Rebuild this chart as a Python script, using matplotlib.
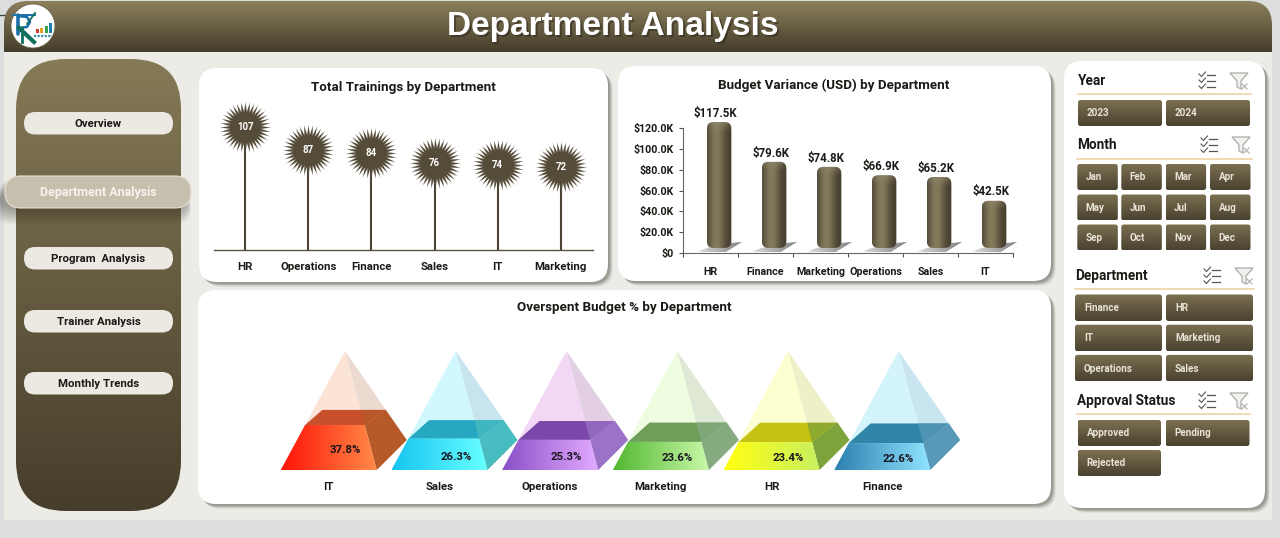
import numpy as np
import matplotlib
matplotlib.use("Agg")
import matplotlib.pyplot as plt
from matplotlib.colors import to_rgb
from matplotlib.patches import FancyBboxPatch, Polygon, Circle
from matplotlib.path import Path

# chart data
train_depts = ["HR", "Operations", "Finance", "Sales", "IT", "Marketing"]
train_totals = [107, 87, 84, 76, 74, 72]

var_depts = ["HR", "Finance", "Marketing", "Operations", "Sales", "IT"]
var_values = [117.5, 79.6, 74.8, 66.9, 65.2, 42.5]  # thousands USD
var_ticks = [0, 20, 40, 60, 80, 100, 120]

over_depts = ["IT", "Sales", "Operations", "Marketing", "HR", "Finance"]
over_pct = [37.8, 26.3, 25.3, 23.6, 23.4, 22.6]

# dashboard text
nav_labels = ["Overview", "Program  Analysis", "Trainer Analysis", "Monthly Trends"]
years = ["2023", "2024"]
months = ["Jan", "Feb", "Mar", "Apr", "May", "Jun", "Jul", "Aug", "Sep", "Oct", "Nov", "Dec"]
slicer_depts = ["Finance", "HR", "IT", "Marketing", "Operations", "Sales"]
approvals = ["Approved", "Pending", "Rejected"]

W, H = 1280, 538
FONT = "Roboto"
INK = "#1c1a16"
STEM = "#4d4533"

# pyramid colours, same order as over_depts
front_l = ["#ff1408", "#16c4f0", "#8a50c8", "#52b830", "#ffff10", "#2a7fae"]
front_r = ["#ff8a48", "#66ffff", "#e2aaff", "#c8f8a8", "#c8f060", "#8fe4ff"]
top_col = ["#c8502a", "#25a8c0", "#7a48a8", "#6e9e5a", "#c6c214", "#3085a8"]
side_col = ["#b55a28", "#48bcc0", "#9a72c8", "#85aa80", "#7ca43a", "#5898b8"]
ghost_f = ["#fbe4d5", "#d2f8ff", "#f2d8f5", "#eefce0", "#fdffd0", "#d4f4fb"]
ghost_s = ["#ecd9d0", "#c8e4ee", "#e2cfe3", "#dfe8d5", "#eef0c8", "#c9e6f0"]

fig = plt.figure(figsize=(W / 100, H / 100), dpi=100, facecolor="#dcdddd")


def px_axes(x0, y0, x1, y1):
    ax = fig.add_axes([x0 / W, 1 - y1 / H, (x1 - x0) / W, (y1 - y0) / H])
    ax.patch.set_visible(False)
    return ax


def grad(ax, extent, c0, c1, clip, vertical=False, z=2):
    # two colour gradient image, cut to the shape of clip
    xl, yl = ax.get_xlim(), ax.get_ylim()
    t = np.linspace(0, 1, 64)[:, None]
    arr = (1 - t) * np.array(to_rgb(c0)) + t * np.array(to_rgb(c1))
    arr = arr[:, None, :] if vertical else arr[None, :, :]
    im = ax.imshow(arr, extent=extent, aspect="auto", origin="upper", zorder=z, interpolation="bilinear")
    im.set_clip_path(clip)
    ax.set_xlim(xl)
    ax.set_ylim(yl)
    return im


def grad_poly(ax, verts, c0, c1, z=2):
    v = np.array(verts)
    clip = Polygon(v, closed=True, transform=ax.transData)
    return grad(ax, (v[:, 0].min(), v[:, 0].max(), v[:, 1].min(), v[:, 1].max()), c0, c1, clip, z=z)


def round_box(x0, y0, x1, y1, r, **kw):
    return FancyBboxPatch((x0, y0), x1 - x0, y1 - y0, boxstyle=f"round,pad=0,rounding_size={r}", **kw)


# background layer in pixel coordinates
bg = fig.add_axes([0, 0, 1, 1])
bg.set_xlim(0, W)
bg.set_ylim(H, 0)
bg.axis("off")

bg.add_patch(plt.Rectangle((4, 40), 1268, 480, color="#ecebe5", lw=0, zorder=1))
bg.plot([0, 5], [15, 15], color="#3c4a46", lw=1, zorder=1)


def grad_box(x0, y0, x1, y1, r, c0, c1, z=2):
    clip = round_box(x0, y0, x1, y1, r, transform=bg.transData)
    grad(bg, (x0, x1, y1, y0), c0, c1, clip, vertical=True, z=z)


# header: rounded on top, square where it meets the canvas
hdr_clip = round_box(4, 1, 1272, 80, 24, transform=bg.transData)
im = grad(bg, (4, 1272, 52, 1), "#8b7f5c", "#453d2b", hdr_clip, vertical=True)
bg.text(614.5, 28.5, "Department Analysis", color="#2a2418", alpha=0.5, fontsize=24, fontweight="bold",
        family="Liberation Sans", ha="center", va="center", zorder=3)
bg.text(613, 27, "Department Analysis", color="white", fontsize=24, fontweight="bold",
        family="Liberation Sans", ha="center", va="center", zorder=3)

# logo, drawn with shapes
bg.add_patch(Circle((33, 26), 22, fc="white", ec="#6f6548", lw=0.6, zorder=4))
bg.plot([18, 18], [15, 34], color="#1a70a8", lw=2.6, zorder=5, solid_capstyle="round")
bg.plot([13, 35], [14.5, 14.5], color="#1a70a8", lw=1.4, zorder=5)
bg.plot([18, 27, 30, 27, 18], [16, 17, 22, 27, 28], color="#1a70a8", lw=1.8, zorder=5)
bg.plot([19, 34], [28, 42], color="#126f5c", lw=3, zorder=5)
bg.plot([22, 22], [28, 42], color="#126f5c", lw=2, zorder=5)
bg.plot([35, 27], [13, 24], color="#126f5c", lw=1.3, zorder=5)
for bx, top, c in zip([36, 40, 44.5, 49], [29, 27.5, 26, 23], ["#d43a2a", "#e8a020", "#3aa050", "#1a80b0"]):
    bg.add_patch(plt.Rectangle((bx, top), 3, 33 - top, color=c, lw=0, zorder=5))
bg.plot([34, 52], [36, 36], color="#3a90a8", lw=1.6, ls=(0, (1, 0.6)), zorder=5)

# sidebar
grad_box(16, 59, 181, 511, 50, "#857956", "#463e2b")

for label, y0 in zip(nav_labels, [112, 247, 310, 372]):
    bg.add_patch(round_box(24, y0, 173, y0 + 22.5, 11, fc="#ece9e3", ec="none", zorder=4))
    bg.text(98.5, y0 + 12, label, color=INK, fontsize=8.2, fontweight="bold", family=FONT,
            ha="center", va="center", zorder=5)

# selected page, raised with a soft shadow
for off in np.arange(1, 17, 1.5):
    bg.add_patch(round_box(0 - off * 0.2, 178 + off, 186 + off * 0.3, 208 + off, 15, fc="#2c2a22", ec="none",
                           alpha=0.045, zorder=3))
bg.add_patch(round_box(5, 176, 191, 208, 16, fc="#c6bfad", ec="#e4e0d6", lw=0.8, zorder=4))
bg.text(98.5, 192.5, "Department Analysis", color="#f6f4ee", fontsize=9, fontweight="bold", family=FONT,
        ha="center", va="center", zorder=5)


def panel(x0, y0, x1, y1, r=18):
    for off, a in zip([5, 4, 3, 2], [0.08, 0.14, 0.2, 0.26]):
        bg.add_patch(round_box(x0 + off, y0 + off, x1 + off, y1 + off, r, fc="#55544c", ec="none", alpha=a, zorder=2))
    bg.add_patch(round_box(x0, y0, x1, y1, r, fc="white", ec="none", zorder=3))


panel(199, 68, 608, 282)
panel(618, 66, 1051, 281)
panel(198, 290, 1051, 504)
panel(1064, 61, 1265, 508)

bg.text(403, 87, "Total Trainings by Department", color=INK, fontsize=9.6, fontweight="bold", family=FONT,
        ha="center", va="center", zorder=5)
bg.text(834, 85.5, "Budget Variance (USD) by Department", color=INK, fontsize=9.6, fontweight="bold", family=FONT,
        ha="center", va="center", zorder=5)
bg.text(624, 308, "Overspent Budget % by Department", color=INK, fontsize=9.6, fontweight="bold", family=FONT,
        ha="center", va="center", zorder=5)


# slicers
def checklist_icon(cx, cy):
    for dy in (-6, 0, 6):
        bg.plot([cx - 8, cx - 5.5, cx - 1.5], [cy + dy - 1, cy + dy + 1.5, cy + dy - 3], color="#555", lw=0.8, zorder=5)
        bg.plot([cx, cx + 8], [cy + dy, cy + dy], color="#555", lw=0.9, zorder=5)


def funnel_icon(cx, cy):
    bg.add_patch(Polygon([(cx - 9, cy - 8), (cx + 9, cy - 8), (cx + 2, cy), (cx + 2, cy + 8), (cx - 2, cy + 6), (cx - 2, cy)],
                         closed=True, fc="#f0f0ee", ec="#b4b4b0", lw=1, zorder=5))
    bg.plot([cx + 3, cx + 8], [cy + 3, cy + 8], color="#b4b4b0", lw=0.9, zorder=6)
    bg.plot([cx + 3, cx + 8], [cy + 8, cy + 3], color="#b4b4b0", lw=0.9, zorder=6)


def slicer_head(title, x, y, x1, icon_x, line_y):
    bg.text(x, y, title, color=INK, fontsize=9.8, fontweight="bold", family=FONT, ha="left", va="center", zorder=5)
    checklist_icon(icon_x, y)
    funnel_icon(icon_x + 32, y)
    bg.plot([x, x1], [line_y, line_y], color="#ebcf9c", lw=1.1, zorder=5)


def slicer_btn(label, x0, y0, x1, y1, pad=9):
    grad_box(x0, y0, x1, y1, 2.5, "#7c7051", "#4a4230", z=4)
    bg.text(x0 + pad, (y0 + y1) / 2 + 0.5, label, color="#e8e3d6", fontsize=7.1, fontweight="bold", family=FONT,
            ha="left", va="center", zorder=6)


slicer_head("Year", 1078, 81, 1251, 1207, 94)
slicer_btn(years[0], 1078, 100, 1162, 126)
slicer_btn(years[1], 1166, 100, 1250, 126)

slicer_head("Month", 1077, 145, 1252, 1209, 159)
col_x = [1077.3, 1121.3, 1165.6, 1210]
row_y = [164, 194.5, 224.5]
for i, m in enumerate(months):
    cx, ry = col_x[i % 4], row_y[i // 4]
    slicer_btn(m, cx, ry, cx + 40.5, ry + 26, pad=8.5)

slicer_head("Department", 1075, 276, 1254, 1212, 289)
for i, d in enumerate(slicer_depts):
    cx = 1075 if i % 2 == 0 else 1166
    ry = 294.5 + 30.2 * (i // 2)
    slicer_btn(d, cx, ry, cx + 87, ry + 26.5)

slicer_head("Approval Status", 1077, 401, 1250, 1207, 414)
slicer_btn(approvals[0], 1077.5, 420, 1161, 446)
slicer_btn(approvals[1], 1165.5, 420, 1249.5, 446)
slicer_btn(approvals[2], 1077.5, 450, 1161, 476)


# Total Trainings: lollipops with a burst head
ax1 = px_axes(213.5, 90, 592.5, 250)
pos1 = np.arange(len(train_depts))
ax1.set_xlim(-0.5, 5.5)
ax1.set_ylim(0, 160 / 1.15)
ax1.vlines(pos1, 0, train_totals, color=STEM, lw=1.5, zorder=2)
burst = Path.unit_regular_star(36, innerCircle=0.62)
ax1.plot(pos1, train_totals, ls="none", marker=burst, ms=38, mfc="#544b38", mec="none", alpha=0.4, zorder=3, clip_on=False)
ax1.plot(pos1, train_totals, ls="none", marker=burst, ms=35, mfc="#544b38", mec="none", zorder=3, clip_on=False)
for p, v in zip(pos1, train_totals):
    ax1.text(p, v, str(v), color="white", fontsize=6.9, fontweight="bold", family=FONT, ha="center", va="center", zorder=4)
ax1.set_xticks(pos1, train_depts, fontsize=8.2, fontweight="bold", family=FONT, color=INK)
ax1.set_yticks([])
ax1.tick_params(axis="x", length=0, pad=9)
for s in ("top", "left", "right"):
    ax1.spines[s].set_visible(False)
ax1.spines["bottom"].set_color("#5a5240")
ax1.spines["bottom"].set_linewidth(1)


# Budget Variance: value axis
ax2 = px_axes(683, 128.3, 1013, 252.7)
pos2 = np.arange(len(var_depts))
ax2.set_xlim(-0.5, 5.5)
ax2.set_ylim(0, 120)
ax2.set_yticks(var_ticks, ["$0"] + [f"${t:.1f}K" for t in var_ticks[1:]], fontsize=7.7, fontweight="bold", family=FONT, color=INK)
ax2.set_xticks(pos2, var_depts, fontsize=7.7, fontweight="bold", family=FONT, color=INK)
ax2.set_xticks(np.arange(-0.5, 6), minor=True)
ax2.tick_params(axis="x", which="major", length=0, pad=10)
ax2.tick_params(axis="x", which="minor", length=3, color="#555", width=0.8)
ax2.tick_params(axis="y", length=3, color="#555", width=0.8, pad=4)
for s in ("top", "right"):
    ax2.spines[s].set_visible(False)
for s in ("left", "bottom"):
    ax2.spines[s].set_color("#666")
    ax2.spines[s].set_linewidth(0.8)
for p, v in zip(pos2, var_values):
    ax2.annotate(f"${v:.1f}K", (p, v), xytext=(3.8, 12.2), textcoords="offset points", color=INK, fontsize=8.3,
                 fontweight="bold", family=FONT, ha="center", va="center", zorder=5)

# the 3-D columns stand on a raised floor, shifted right of the axis
col_scale = 1.05  # px per thousand
floor_px = 245.4
base = -2.4  # column foot, just under the floor
ax2b = px_axes(691.6, 100, 1021.6, 256)
col_xlim = (-0.5, 5.5)
col_ylim = (-(256 - floor_px) / col_scale, (floor_px - 100) / col_scale)
ax2b.set_xlim(col_xlim)
ax2b.set_ylim(col_ylim)
ax2b.axis("off")
cw, cpx = 24.5 / 55, 1 / 55  # column width, one pixel in x units
py = 1 / col_scale
bars = ax2b.bar(pos2, np.array(var_values) - base, bottom=base, width=cw, color="none", zorder=3)
dark, light, cap = [np.array(to_rgb(c)) for c in ("#40392a", "#837a5c", "#90866a")]
edge = np.array(to_rgb("#4d4632"))
for b in bars:
    x0, w, h = b.get_x(), b.get_width(), b.get_height()
    cx = x0 + w / 2
    shadow = [(cx - 22 * cpx, base - 3.5 * py), (cx - 8 * cpx, base - 4.5 * py), (cx + 6 * cpx, base - 4.5 * py),
              (cx + 23 * cpx, base + 6 * py), (cx + 8 * cpx, base + 4.5 * py), (cx - 12 * cpx, base)]
    grad_poly(ax2b, shadow, "#dedede", "#808080", z=2)
    rows = max(int(h * col_scale), 2)
    tx = np.linspace(0, 1, 32)
    shade = np.exp(-((tx - 0.38) / 0.36) ** 2)[None, :, None]
    right_edge = np.clip((tx - 0.75) / 0.25, 0, 1)[None, :, None] * 0.25
    body = dark + (light - dark) * shade + (edge - dark) * right_edge
    arr = np.repeat(body, rows, axis=0)
    for r in range(min(9, rows)):
        k = (1 - r / 9) * 0.7
        arr[r] = arr[r] * (1 - k) + (cap - (cap - dark) * (np.abs(tx - 0.45)[:, None] ** 2.5) * 3) * k
    clip = FancyBboxPatch((x0, base), w, h, boxstyle=f"round,pad=0,rounding_size={6.5 * cpx}",
                          mutation_aspect=py / cpx, transform=ax2b.transData)
    im = ax2b.imshow(np.clip(arr, 0, 1), extent=(x0, x0 + w, base, base + h), aspect="auto", origin="upper", zorder=3)
    im.set_clip_path(clip)
ax2b.set_xlim(col_xlim)
ax2b.set_ylim(col_ylim)


# Overspent Budget: pyramids, filled from the base by the percentage
ax3 = px_axes(273.4, 340, 937.6, 470)
pos3 = np.arange(len(over_depts))
ax3.set_xlim(-0.5, 5.5)
ax3.set_ylim(0, 130 / 1.19)
PX, PY = 1 / 110.7, 100 / 119
fl_base = np.array((-48 * PX, 0))
fr_base = np.array((48 * PX, 0))
br_base = np.array((78 * PX, 30 * PY))
bl_base = np.array((-18 * PX, 30 * PY))
apex_base = np.array((16.3 * PX, 100))

for i, (p, v) in enumerate(zip(pos3, over_pct)):
    shift = np.array((p, 0))
    fl, fr, br, bl, apex = [c + shift for c in (fl_base, fr_base, br_base, bl_base, apex_base)]
    f = v / 100
    fb = f - 0.04  # back edge of the surface reads a little lower in perspective
    lf = lambda c: c + (apex - c) * f
    lb = lambda c: c + (apex - c) * fb
    ax3.add_patch(Polygon([fl, fr, apex], closed=True, fc=ghost_f[i], ec="none", zorder=2, clip_on=False))
    ax3.add_patch(Polygon([fr, br, apex], closed=True, fc=ghost_s[i], ec="none", zorder=2, clip_on=False))
    ax3.add_patch(Polygon([lb(bl), lb(br), lf(fr), lf(fl)], closed=True, fc=top_col[i], ec="none", zorder=3, clip_on=False))
    ax3.add_patch(Polygon([fr, br, lb(br), lf(fr)], closed=True, fc=side_col[i], ec="none", zorder=3, clip_on=False))
    # front ridge seen through the liquid surface
    back_y = lb(bl)[1]
    t = (back_y - fr[1]) / (apex[1] - fr[1])
    ridge = fr + (apex - fr) * t
    ax3.add_patch(Polygon([ridge, lb(br), lf(fr)], closed=True, fc=side_col[i], ec="none", alpha=0.75, zorder=3, clip_on=False))
    grad_poly(ax3, [fl, fr, lf(fr), lf(fl)], front_l[i], front_r[i], z=4)
    ax3.text(apex[0], v / 2 - 2, f"{v:.1f}%", color="#1a1420", fontsize=8.2, fontweight="bold", family=FONT,
             ha="center", va="center", zorder=5)

ax3.set_xticks(pos3, over_depts, fontsize=8.2, fontweight="bold", family=FONT, color=INK)
ax3.set_yticks([])
ax3.tick_params(axis="x", length=0, pad=9)
for s in ax3.spines.values():
    s.set_visible(False)

bg.set_xlim(0, W)
bg.set_ylim(H, 0)
fig.savefig("out.png", dpi=100, facecolor=fig.get_facecolor())
